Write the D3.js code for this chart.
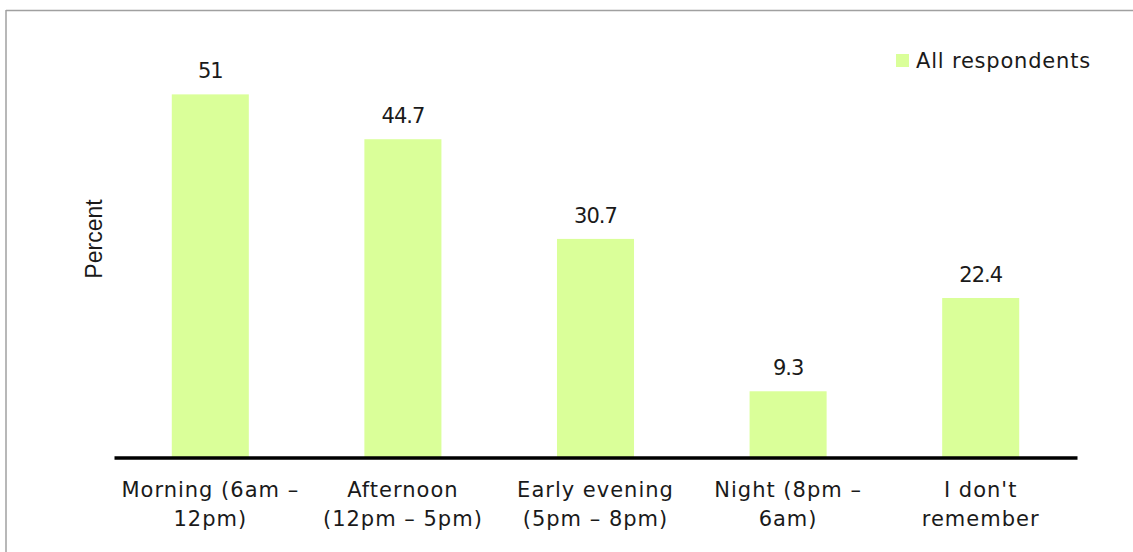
<!DOCTYPE html>
<html><head><meta charset="utf-8">
<script src="https://cdn.jsdelivr.net/npm/d3@7"></script>
<style>html,body{margin:0;padding:0;background:#fff;}svg{display:block;}</style>
</head><body>
<svg id="chart" width="1133" height="552"></svg>
<script>
const categories = [["Morning (6am \u2013", "12pm)"], ["Afternoon", "(12pm \u2013 5pm)"], ["Early evening", "(5pm \u2013 8pm)"], ["Night (8pm \u2013", "6am)"], ["I don't", "remember"]];
const values = [51, 44.7, 30.7, 9.3, 22.4];
const valueLabels = ["51", "44.7", "30.7", "9.3", "22.4"];
const seriesName = "All respondents";

const W = 1133, H = 552;
const svg = d3.select("#chart");
const font = "'DejaVu Sans', sans-serif";
const fs = 21, ls = 1.0;
const barColor = "#DAFF99";

svg.append("line").attr("x1", 6).attr("x2", W).attr("y1", 10.5).attr("y2", 10.5).attr("stroke", "#a0a0a0").attr("stroke-width", 1.5);
svg.append("line").attr("x1", 6).attr("x2", 6).attr("y1", 10).attr("y2", H).attr("stroke", "#a0a0a0").attr("stroke-width", 1.5);

const x0 = 114, x1 = 1077, yBase = 457.5;
const x = d3.scaleBand().domain(d3.range(values.length)).range([x0, x1]).paddingInner(0.6).paddingOuter(0.3);
const y = d3.scaleLinear().domain([0, 60]).range([yBase, yBase - 60 * 7.12]);

svg.selectAll("rect.bar").data(values).enter().append("rect")
  .attr("class", "bar")
  .attr("x", (d, i) => x(i))
  .attr("width", x.bandwidth())
  .attr("y", d => y(d))
  .attr("height", d => y(0) - y(d))
  .attr("fill", barColor);

svg.selectAll("text.val").data(values).enter().append("text")
  .attr("class", "val")
  .attr("x", (d, i) => x(i) + x.bandwidth() / 2)
  .attr("y", d => y(d) - 16)
  .attr("text-anchor", "middle")
  .attr("font-family", font).attr("font-size", 21).attr("letter-spacing", -1).attr("fill", "#1a1a1a")
  .text((d, i) => valueLabels[i]);

const axis = d3.axisBottom(x).tickSize(0).tickFormat("");
const gAxis = svg.append("g").attr("transform", `translate(0,${yBase})`).call(axis);
gAxis.select(".domain").attr("stroke", "#000").attr("stroke-width", 3.5);

const cat = svg.selectAll("text.cat").data(categories).enter().append("text")
  .attr("class", "cat")
  .attr("text-anchor", "middle")
  .attr("font-family", font).attr("font-size", fs).attr("letter-spacing", ls).attr("fill", "#1a1a1a");
cat.each(function (d, i) {
  const t = d3.select(this);
  d.forEach((line, j) => {
    t.append("tspan").attr("x", x(i) + x.bandwidth() / 2).attr("y", 497 + j * 28.5).text(line);
  });
});

svg.append("text")
  .attr("transform", "translate(102,239) rotate(-90)")
  .attr("text-anchor", "middle")
  .attr("font-family", "'Liberation Sans', Arial, sans-serif").attr("font-size", 23).attr("fill", "#1a1a1a")
  .text("Percent");

const lg = svg.append("g").attr("transform", "translate(896,54)");
lg.append("rect").attr("width", 13).attr("height", 13).attr("fill", barColor);
lg.append("text").attr("x", 20).attr("y", 14)
  .attr("font-family", font).attr("font-size", fs).attr("letter-spacing", 0.8).attr("fill", "#1a1a1a")
  .text(seriesName);
</script>
</body></html>
